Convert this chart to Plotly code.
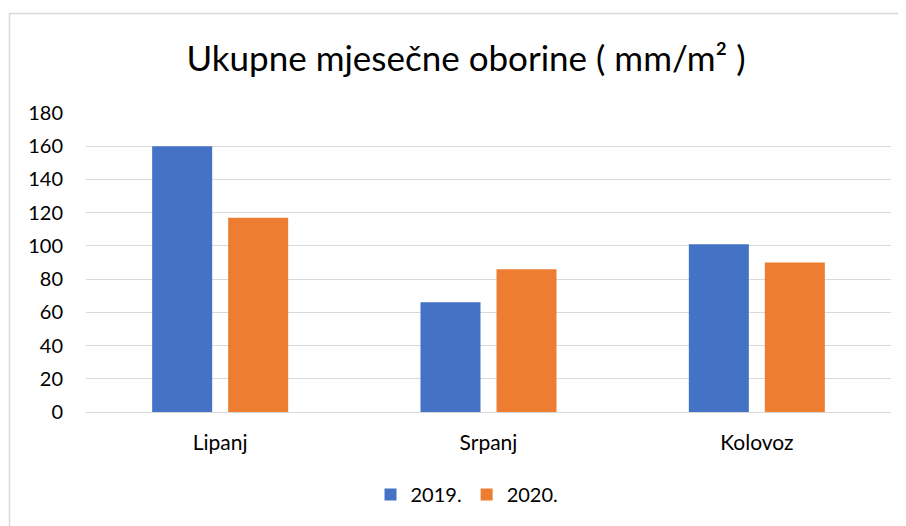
import plotly.graph_objects as go

categories = ["Lipanj", "Srpanj", "Kolovoz"]
series_names = ["2019.", "2020."]
values_2019 = [160, 66, 101]
values_2020 = [117, 86, 90]
y_ticks = [0, 20, 40, 60, 80, 100, 120, 140, 160, 180]
title_text = "Ukupne mjesečne oborine ( mm/m² )"

BLUE = "#4472C4"
ORANGE = "#ED7D31"
FONT = "Lato, 'Noto Sans', sans-serif"

W, H = 906, 526
OFF = 8  # page body margin offset
# target pixel positions in the screenshot
PL, PR, PT, PB = 86, 891, 113.3, 411.7
L = PL - OFF
R = W - (PR - OFF)
T = PT - OFF
B = H - (PB - OFF)
pw = W - L - R
ph = H - T - B

def px_x(px):
    return (px - OFF - L) / pw

def px_y(py):
    return (H - B - (py - OFF)) / ph

fig = go.Figure()
fig.add_trace(go.Bar(x=categories, y=values_2019, name=series_names[0],
                     marker=dict(color=BLUE, line=dict(width=0))))
fig.add_trace(go.Bar(x=categories, y=values_2020, name=series_names[1],
                     marker=dict(color=ORANGE, line=dict(width=0))))

fig.update_layout(
    width=W, height=H,
    margin=dict(l=L, r=R, t=T, b=B, pad=0, autoexpand=False),
    paper_bgcolor="white", plot_bgcolor="white",
    barmode="group", bargap=0.4335, bargroupgap=0.2105,
    font=dict(family=FONT, size=20, color="#000000"),
    title=dict(text=title_text, font=dict(family=FONT, size=35, color="#000000"),
               x=(466 - OFF) / W, xanchor="center", xref="container",
               y=1 - (59 - OFF) / H, yanchor="middle", yref="container"),
    showlegend=True,
    legend=dict(orientation="h", x=px_x(467), xanchor="center",
                y=px_y(494), yanchor="middle",
                font=dict(family=FONT, size=20, color="#000000"),
                itemwidth=30, tracegroupgap=0, bgcolor="rgba(0,0,0,0)"),
    xaxis=dict(showgrid=False, showline=True, linecolor="#D9D9D9", linewidth=1,
               ticks="", tickfont=dict(family=FONT, size=21, color="#000000"),
               ticklabelstandoff=12, fixedrange=True),
    yaxis=dict(range=[0, 180], tickvals=y_ticks, showgrid=True,
               gridcolor="#D9D9D9", gridwidth=1, zeroline=False, showline=False,
               ticks="", tickfont=dict(family=FONT, size=20, color="#000000"),
               ticklabelstandoff=22, fixedrange=True),
    shapes=[dict(type="rect", xref="paper", yref="paper",
                 x0=px_x(9.5), x1=px_x(940), y0=px_y(560), y1=px_y(14),
                 line=dict(color="#D9D9D9", width=1.5), fillcolor="rgba(0,0,0,0)",
                 layer="below")],
)

fig.write_html("out.html")
